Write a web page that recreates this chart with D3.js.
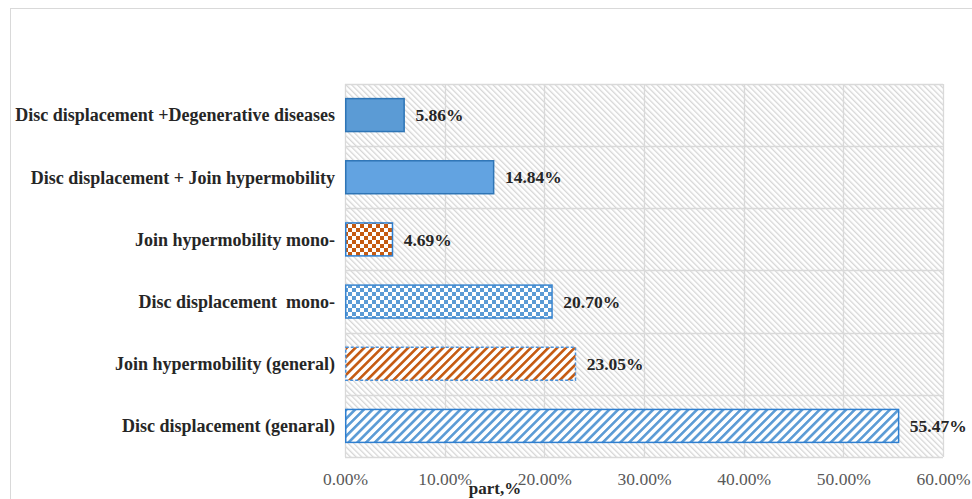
<!DOCTYPE html>
<html><head><meta charset="utf-8">
<script src="https://cdn.jsdelivr.net/npm/d3@7"></script>
<style>
html,body{margin:0;padding:0;background:#fff;}
svg{display:block;}
</style></head>
<body>
<svg id="chart" width="972" height="499"></svg>
<script>
const categories = [
  "Disc displacement (genaral)",
  "Join hypermobility (general)",
  "Disc displacement  mono-",
  "Join hypermobility mono-",
  "Disc displacement + Join hypermobility",
  "Disc displacement +Degenerative diseases"
];
const values = [55.47, 23.05, 20.70, 4.69, 14.84, 5.86];
const valueLabels = ["55.47%", "23.05%", "20.70%", "4.69%", "14.84%", "5.86%"];
const fills = ["url(#stripeBlue)", "url(#stripeOrange)", "url(#checkBlue)", "url(#checkOrange)", "#62a3e1", "#5b9bd5"];
const strokes = ["#2e7fd0", "#4a90d9", "#3a86d0", "#2e7fd0", "#2e75b6", "#2e75b6"];
const dashes = [null, "3,2", null, null, null, null];
const xTicks = [0, 10, 20, 30, 40, 50, 60];
const xTitle = "part,%";

const svg = d3.select("#chart");
const defs = svg.append("defs");
const serif = "'Liberation Serif','Times New Roman',serif";

// background hatch
const bg = defs.append("pattern").attr("id","bgHatch").attr("patternUnits","userSpaceOnUse")
  .attr("width",4).attr("height",4).attr("patternTransform","rotate(-45)");
bg.append("rect").attr("width",4).attr("height",4).attr("fill","#fff");
bg.append("rect").attr("x",0).attr("width",1.3).attr("height",4).attr("fill","#d6d6d6");

function stripe(id, color){
  const p = defs.append("pattern").attr("id",id).attr("patternUnits","userSpaceOnUse")
    .attr("width",6.2).attr("height",6.2).attr("patternTransform","rotate(45)");
  p.append("rect").attr("width",6.2).attr("height",6.2).attr("fill","#fff");
  p.append("rect").attr("width",2.6).attr("height",6.2).attr("fill",color);
}
stripe("stripeBlue","#5b9bd5");
stripe("stripeOrange","#c55a11");
function checker(id,color){
  const p = defs.append("pattern").attr("id",id).attr("patternUnits","userSpaceOnUse")
    .attr("width",8).attr("height",8);
  p.append("rect").attr("width",8).attr("height",8).attr("fill","#fff");
  p.append("rect").attr("x",0).attr("y",0).attr("width",4).attr("height",4).attr("fill",color);
  p.append("rect").attr("x",4).attr("y",4).attr("width",4).attr("height",4).attr("fill",color);
}
checker("checkBlue","#5b9bd5");
checker("checkOrange","#c55a11");

// outer chart border
svg.append("rect").attr("x",10.5).attr("y",8.5).attr("width",1000).attr("height",600)
  .attr("fill","none").attr("stroke","#d9d9d9").attr("stroke-width",1);

const pLeft = 345, pRight = 943, pTop = 84, pBottom = 457;
const x = d3.scaleLinear().domain([0,60]).range([pLeft,pRight]);
const y = d3.scaleBand().domain(categories).range([pBottom, pTop]).paddingInner(0.47).paddingOuter(0.235);

// plot background
svg.append("rect").attr("x",pLeft).attr("y",pTop).attr("width",pRight-pLeft).attr("height",pBottom-pTop)
  .attr("fill","url(#bgHatch)");

// vertical grid
svg.append("g").selectAll("line").data(xTicks).join("line")
  .attr("x1",d=>Math.round(x(d))+0.5).attr("x2",d=>Math.round(x(d))+0.5)
  .attr("y1",pTop).attr("y2",pBottom).attr("stroke","#d9d9d9").attr("stroke-width",1.3);
// horizontal grid at band boundaries
const step = y.step();
const bounds = categories.map(c => y(c) - y.paddingInner()*step/2).concat([pBottom]);
svg.append("g").selectAll("line").data(bounds).join("line")
  .attr("x1",pLeft).attr("x2",pRight)
  .attr("y1",d=>Math.round(d)+0.5).attr("y2",d=>Math.round(d)+0.5)
  .attr("stroke","#d9d9d9").attr("stroke-width",1.3);

// bars
svg.append("g").selectAll("rect").data(categories).join("rect")
  .attr("x",x(0)+0.75)
  .attr("y",d=>y(d))
  .attr("width",(d,i)=>x(values[i])-x(0))
  .attr("height",y.bandwidth())
  .attr("fill",(d,i)=>fills[i])
  .attr("stroke",(d,i)=>strokes[i])
  .attr("stroke-width",1.5)
  .attr("stroke-dasharray",(d,i)=>dashes[i]);

// value labels
svg.append("g").selectAll("text").data(categories).join("text")
  .attr("x",(d,i)=>x(values[i])+12)
  .attr("y",d=>y(d)+y.bandwidth()/2)
  .attr("dy","0.35em")
  .attr("font-family",serif)
  .attr("font-weight","bold").attr("font-size",17.5).attr("fill","#262626")
  .text((d,i)=>valueLabels[i]);

// category labels
svg.append("g").selectAll("text").data(categories).join("text")
  .attr("x",335)
  .attr("y",d=>y(d)+y.bandwidth()/2)
  .attr("dy","0.35em")
  .attr("text-anchor","end")
  .attr("font-family",serif)
  .attr("font-weight","bold").attr("font-size",18).attr("fill","#262626")
  .style("white-space","pre")
  .text(d=>d);

// x axis
const xAxis = d3.axisBottom(x).tickValues(xTicks).tickFormat(d=>d.toFixed(2)+"%").tickSize(0).tickPadding(0);
const ax = svg.append("g").attr("transform",`translate(0,${pBottom})`).call(xAxis);
ax.select(".domain").remove();
ax.selectAll("text").attr("font-family",serif)
  .attr("font-size",17.5).attr("fill","#595959").attr("y",28).attr("dy",null);

svg.append("text").attr("x",495).attr("y",494).attr("text-anchor","middle")
  .attr("font-family",serif)
  .attr("font-weight","bold").attr("font-size",17).attr("fill","#262626").text(xTitle);
</script>
</body></html>
